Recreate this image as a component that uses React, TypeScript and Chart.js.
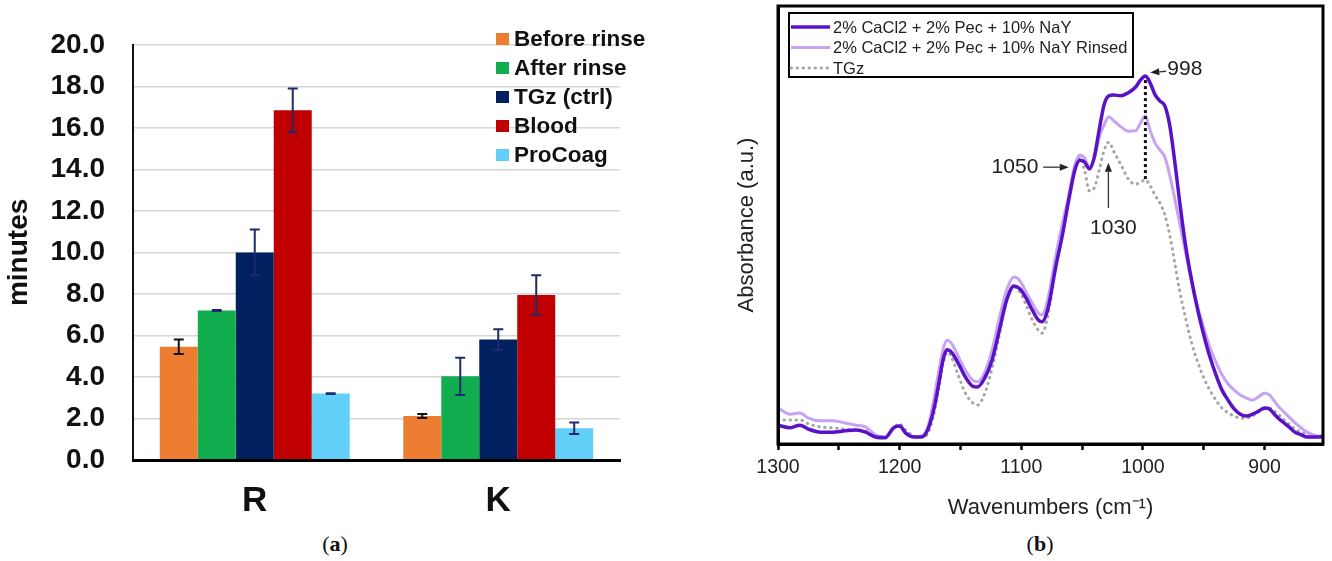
import React, { useEffect, useRef } from "react";
import { Chart, registerables } from "chart.js";

Chart.register(...registerables);

const FONT = "'Liberation Sans', Arial, Helvetica, sans-serif";
Chart.defaults.font.family = FONT;

// ---------- Panel (a): clotting times ----------
const groupLabels = ["R", "K"];
const seriesNames = ["Before rinse", "After rinse", "TGz (ctrl)", "Blood", "ProCoag"];
const seriesColors = ["#ED7D31", "#12AD4F", "#002060", "#C00000", "#62CFF8"];
const errorColors = ["#111111", "#1f2a6e", "#1f2a6e", "#1f2a6e", "#1f2a6e"];
const beforeRinse = [5.45, 2.12];
const afterRinse = [7.2, 4.03];
const tgzCtrl = [10.0, 5.8];
const blood = [16.85, 7.95];
const proCoag = [3.2, 1.53];
const beforeRinseErr = [0.35, 0.1];
const afterRinseErr = [0.02, 0.9];
const tgzCtrlErr = [1.1, 0.5];
const bloodErr = [1.05, 0.95];
const proCoagErr = [0.02, 0.28];

// ---------- Panel (b): FTIR spectra ----------
const wavenumbers = [
  1300, 1290, 1282, 1275, 1265, 1255, 1245, 1236, 1228, 1220,
  1212, 1205, 1200, 1195, 1188, 1182, 1177, 1172, 1168, 1164,
  1161, 1157, 1152, 1146, 1140, 1136, 1130, 1124, 1118, 1112,
  1106, 1101, 1096, 1091, 1086, 1083, 1078, 1072, 1066, 1061,
  1056, 1052, 1048, 1044, 1040, 1036, 1032, 1028, 1024, 1018,
  1012, 1006, 1002, 998, 994, 990, 986, 982, 978, 974,
  970, 965, 960, 955, 950, 945, 940, 935, 930, 925,
  920, 915, 910, 905, 900, 896, 892, 888, 884, 880,
  875, 870, 865, 860, 855, 852,
];
const nay = [
  0.043, 0.037, 0.043, 0.034, 0.027, 0.027, 0.030, 0.032, 0.027, 0.016,
  0.014, 0.037, 0.041, 0.025, 0.016, 0.016, 0.032, 0.078, 0.135, 0.196,
  0.215, 0.208, 0.185, 0.153, 0.132, 0.130, 0.151, 0.192, 0.260, 0.329,
  0.361, 0.354, 0.333, 0.306, 0.283, 0.279, 0.310, 0.400, 0.480, 0.557,
  0.625, 0.648, 0.644, 0.628, 0.655, 0.717, 0.774, 0.795, 0.797, 0.795,
  0.802, 0.815, 0.831, 0.840, 0.824, 0.797, 0.783, 0.772, 0.728, 0.648,
  0.557, 0.454, 0.374, 0.306, 0.249, 0.199, 0.158, 0.123, 0.100, 0.080,
  0.068, 0.064, 0.068, 0.075, 0.082, 0.080, 0.068, 0.057, 0.048, 0.039,
  0.027, 0.021, 0.016, 0.016, 0.016, 0.018,
];
const nayRinsed = [
  0.082, 0.068, 0.071, 0.059, 0.053, 0.053, 0.048, 0.043, 0.039, 0.021,
  0.016, 0.037, 0.041, 0.025, 0.016, 0.018, 0.037, 0.100, 0.164, 0.219,
  0.237, 0.228, 0.201, 0.169, 0.146, 0.142, 0.164, 0.215, 0.288, 0.352,
  0.381, 0.372, 0.347, 0.322, 0.299, 0.295, 0.333, 0.425, 0.507, 0.568,
  0.637, 0.660, 0.653, 0.632, 0.653, 0.700, 0.728, 0.747, 0.738, 0.724,
  0.714, 0.715, 0.733, 0.749, 0.715, 0.687, 0.671, 0.655, 0.614, 0.562,
  0.507, 0.438, 0.370, 0.313, 0.265, 0.221, 0.187, 0.158, 0.137, 0.123,
  0.112, 0.105, 0.100, 0.108, 0.116, 0.112, 0.098, 0.084, 0.073, 0.062,
  0.048, 0.037, 0.027, 0.021, 0.018, 0.018,
];
const tgz = [
  0.055, 0.055, 0.055, 0.046, 0.039, 0.037, 0.034, 0.032, 0.030, 0.018,
  0.016, 0.037, 0.046, 0.032, 0.018, 0.016, 0.023, 0.066, 0.123, 0.187,
  0.210, 0.196, 0.158, 0.116, 0.094, 0.089, 0.116, 0.174, 0.249, 0.329,
  0.358, 0.347, 0.317, 0.283, 0.260, 0.253, 0.295, 0.397, 0.493, 0.562,
  0.630, 0.655, 0.625, 0.578, 0.585, 0.625, 0.670, 0.689, 0.668, 0.637,
  0.605, 0.593, 0.598, 0.603, 0.589, 0.568, 0.550, 0.523, 0.477, 0.416,
  0.352, 0.288, 0.231, 0.187, 0.151, 0.123, 0.100, 0.082, 0.071, 0.064,
  0.059, 0.059, 0.064, 0.073, 0.080, 0.082, 0.075, 0.066, 0.055, 0.046,
  0.034, 0.027, 0.023, 0.018, 0.016, 0.016,
];
const spectraNames = [
  "2% CaCl2 + 2% Pec + 10% NaY",
  "2% CaCl2 + 2% Pec + 10% NaY Rinsed",
  "TGz",
];
const xTickValues = [900, 950, 1000, 1050, 1100, 1150, 1200, 1250, 1300];
const xTickLabels = ["900", "", "1000", "", "1100", "", "1200", "", "1300"];
const peakLabels = ["998", "1050", "1030"];

function toPoints(values: number[]) {
  return wavenumbers.map((w, i) => ({ x: w, y: values[i] }));
}

function drawArrow(ctx: CanvasRenderingContext2D, x1: number, y1: number, x2: number, y2: number) {
  const head = 9;
  const half = 3.5;
  const a = Math.atan2(y2 - y1, x2 - x1);
  const bx = x2 - head * Math.cos(a);
  const by = y2 - head * Math.sin(a);
  ctx.beginPath();
  ctx.moveTo(x1, y1);
  ctx.lineTo(bx, by);
  ctx.stroke();
  ctx.beginPath();
  ctx.moveTo(x2, y2);
  ctx.lineTo(bx + half * Math.sin(a), by - half * Math.cos(a));
  ctx.lineTo(bx - half * Math.sin(a), by + half * Math.cos(a));
  ctx.closePath();
  ctx.fill();
}

const errorBarPlugin = {
  id: "errorBars",
  afterDatasetsDraw(chart: any) {
    const ctx = chart.ctx;
    const ys = chart.scales.y;
    chart.data.datasets.forEach((ds: any, i: number) => {
      const meta = chart.getDatasetMeta(i);
      meta.data.forEach((bar: any, j: number) => {
        const v = ds.data[j];
        const e = ds.errors[j];
        const top = ys.getPixelForValue(v + e);
        const bot = ys.getPixelForValue(v - e);
        ctx.save();
        ctx.strokeStyle = ds.errorColor;
        ctx.lineWidth = 2;
        ctx.beginPath();
        ctx.moveTo(bar.x, top);
        ctx.lineTo(bar.x, bot);
        ctx.moveTo(bar.x - 5, top);
        ctx.lineTo(bar.x + 5, top);
        ctx.moveTo(bar.x - 5, bot);
        ctx.lineTo(bar.x + 5, bot);
        ctx.stroke();
        ctx.restore();
      });
    });
  },
};

const legendAPlugin = {
  id: "legendA",
  afterDraw(chart: any) {
    const ctx = chart.ctx;
    ctx.save();
    ctx.font = `bold 22.5px ${FONT}`;
    ctx.textBaseline = "middle";
    ctx.textAlign = "left";
    chart.data.datasets.forEach((ds: any, i: number) => {
      const cy = 39 + i * 29;
      ctx.fillStyle = ds.backgroundColor;
      ctx.fillRect(496, cy - 6, 13, 12);
      ctx.fillStyle = "#111";
      ctx.fillText(ds.label, 514, cy + 1);
    });
    ctx.restore();
  },
};

const spectraDecorPlugin = {
  id: "spectraDecor",
  afterDatasetsDraw(chart: any) {
    const ctx = chart.ctx;
    const { left, top, right, bottom } = chart.chartArea;
    const xs = chart.scales.x;
    const ys = chart.scales.y;
    const X = (w: number) => xs.getPixelForValue(w);
    const Y = (v: number) => ys.getPixelForValue(v);
    ctx.save();
    // frame
    ctx.strokeStyle = "#000";
    ctx.lineWidth = 3;
    ctx.strokeRect(left, top, right - left, bottom - top);

    // dotted drop line at 998
    const k = wavenumbers.indexOf(998);
    ctx.setLineDash([3, 3]);
    ctx.lineWidth = 3;
    ctx.strokeStyle = "#111";
    ctx.beginPath();
    ctx.moveTo(X(998), Y(nay[k]) + 4);
    ctx.lineTo(X(998), Y(tgz[k]));
    ctx.stroke();
    ctx.setLineDash([]);

    // annotations
    ctx.fillStyle = "#222";
    ctx.strokeStyle = "#333";
    ctx.lineWidth = 1.3;
    ctx.font = `21px ${FONT}`;
    ctx.textBaseline = "middle";
    ctx.textAlign = "left";
    ctx.fillText(peakLabels[0], X(980), Y(0.856));
    drawArrow(ctx, X(981), Y(0.851), X(994), Y(0.848));
    ctx.textAlign = "right";
    ctx.fillText(peakLabels[1], X(1086), Y(0.632));
    drawArrow(ctx, X(1082), Y(0.632), X(1061), Y(0.632));
    ctx.textAlign = "center";
    ctx.fillText(peakLabels[2], X(1024.3), Y(0.493));
    drawArrow(ctx, X(1028.4), Y(0.539), X(1028.4), Y(0.642));

    // legend box
    const lx = left + 11;
    const ly = top + 7;
    ctx.lineWidth = 2;
    ctx.strokeStyle = "#000";
    ctx.fillStyle = "#fff";
    ctx.fillRect(lx, ly, 344, 64);
    ctx.strokeRect(lx, ly, 344, 64);
    ctx.font = `16.5px ${FONT}`;
    ctx.textAlign = "left";
    chart.data.datasets.forEach((ds: any, i: number) => {
      const cy = ly + 14 + i * 20.5;
      ctx.save();
      ctx.strokeStyle = ds.borderColor;
      ctx.lineWidth = ds.borderWidth;
      ctx.lineCap = ds.borderCapStyle || "butt";
      ctx.setLineDash(ds.borderDash || []);
      ctx.beginPath();
      ctx.moveTo(lx + 2, cy);
      ctx.lineTo(lx + 41, cy);
      ctx.stroke();
      ctx.restore();
      ctx.fillStyle = "#222";
      ctx.fillText(ds.label, lx + 44, cy + 1);
    });
    ctx.restore();
  },
};

export default function App() {
  const refA = useRef<HTMLCanvasElement | null>(null);
  const refB = useRef<HTMLCanvasElement | null>(null);

  useEffect(() => {
    const barValues = [beforeRinse, afterRinse, tgzCtrl, blood, proCoag];
    const barErrors = [beforeRinseErr, afterRinseErr, tgzCtrlErr, bloodErr, proCoagErr];
    const chartA = new Chart(refA.current as HTMLCanvasElement, {
      type: "bar",
      data: {
        labels: groupLabels,
        datasets: seriesNames.map((name, i) => ({
          label: name,
          data: barValues[i],
          errors: barErrors[i],
          errorColor: errorColors[i],
          backgroundColor: seriesColors[i],
          borderWidth: 0,
          categoryPercentage: 0.78,
          barPercentage: 1.0,
        })) as any,
      },
      options: {
        responsive: false,
        animation: false,
        layout: { padding: { left: 0, right: 40, top: 41, bottom: 0 } },
        plugins: { legend: { display: false }, tooltip: { enabled: false } },
        scales: {
          x: {
            afterFit: (s: any) => {
              s.height = 70;
            },
            grid: { display: false, drawTicks: false },
            border: { display: true, color: "#000", width: 3, z: 1 },
            ticks: { font: { size: 35, weight: "bold" }, color: "#111", padding: 20 },
          },
          y: {
            min: 0,
            max: 20,
            afterFit: (s: any) => {
              s.width = 133;
            },
            ticks: {
              stepSize: 2,
              callback: (v: any) => Number(v).toFixed(1),
              font: { size: 28, weight: "bold" },
              color: "#111",
              padding: 28,
            },
            grid: { color: "#d6d6d6", lineWidth: 1.5, drawTicks: false },
            border: { display: true, color: "#111", width: 2 },
            title: {
              display: true,
              text: "minutes",
              font: { size: 28, weight: "bold" },
              color: "#111",
              padding: { top: 2, bottom: 0 },
            },
          },
        },
      } as any,
      plugins: [errorBarPlugin, legendAPlugin],
    });

    const spectra = [nay, nayRinsed, tgz];
    const lineStyles = [
      { borderColor: "#5a12c8", borderWidth: 3.5 },
      { borderColor: "#c7a3f2", borderWidth: 3 },
      { borderColor: "#a6a6a6", borderWidth: 3, borderDash: [0.5, 5.5], borderCapStyle: "round" },
    ];
    const chartB = new Chart(refB.current as HTMLCanvasElement, {
      type: "line",
      data: {
        datasets: spectraNames.map((name, i) => ({
          label: name,
          data: toPoints(spectra[i]),
          pointRadius: 0,
          fill: false,
          cubicInterpolationMode: "monotone",
          ...lineStyles[i],
        })) as any,
      },
      options: {
        responsive: false,
        animation: false,
        layout: { padding: { left: 0, right: 9, top: 6, bottom: 0 } },
        plugins: { legend: { display: false }, tooltip: { enabled: false } },
        scales: {
          x: {
            type: "linear",
            reverse: true,
            min: 852,
            max: 1300,
            afterBuildTicks: (s: any) => {
              s.ticks = xTickValues.map((v) => ({ value: v }));
            },
            afterFit: (s: any) => {
              s.height = 86;
            },
            ticks: {
              autoSkip: false,
              maxRotation: 0,
              padding: 6,
              color: "#222",
              font: { size: 19.5 },
              callback: (v: any) => xTickLabels[xTickValues.indexOf(Number(v))] ?? "",
            },
            grid: {
              display: true,
              drawOnChartArea: false,
              drawTicks: true,
              tickLength: 6,
              tickColor: "#000",
              tickWidth: 2.5,
            },
            border: { display: true, color: "#000", width: 3, z: 1 },
            title: {
              display: true,
              text: "Wavenumbers (cm⁻¹)",
              font: { size: 22 },
              color: "#222",
              padding: { top: 0, bottom: 9 },
            },
          },
          y: {
            min: 0,
            max: 1,
            afterFit: (s: any) => {
              s.width = 98;
            },
            ticks: { display: false },
            grid: { display: false },
            border: { display: true, color: "#000", width: 3, z: 1 },
            title: {
              display: true,
              text: "Absorbance (a.u.)",
              font: { size: 22 },
              color: "#222",
              padding: { top: 54, bottom: 0 },
            },
          },
        },
      } as any,
      plugins: [spectraDecorPlugin],
    });

    return () => {
      chartA.destroy();
      chartB.destroy();
    };
  }, []);

  const caption: React.CSSProperties = {
    position: "absolute",
    top: 532,
    transform: "translateX(-50%)",
    fontFamily: "'Liberation Serif', 'Times New Roman', serif",
    fontSize: 22,
    lineHeight: "24px",
    color: "#111",
    whiteSpace: "nowrap",
  };

  return (
    <div
      style={{
        position: "absolute",
        left: 0,
        top: 0,
        width: 1332,
        height: 561,
        background: "#fff",
        overflow: "hidden",
      }}
    >
      <canvas ref={refA} width={660} height={530} style={{ position: "absolute", left: 0, top: 0 }} />
      <canvas ref={refB} width={652} height={530} style={{ position: "absolute", left: 680, top: 0 }} />
      <div style={{ ...caption, left: 335 }}>
        (<b>a</b>)
      </div>
      <div style={{ ...caption, left: 1040 }}>
        (<b>b</b>)
      </div>
    </div>
  );
}
